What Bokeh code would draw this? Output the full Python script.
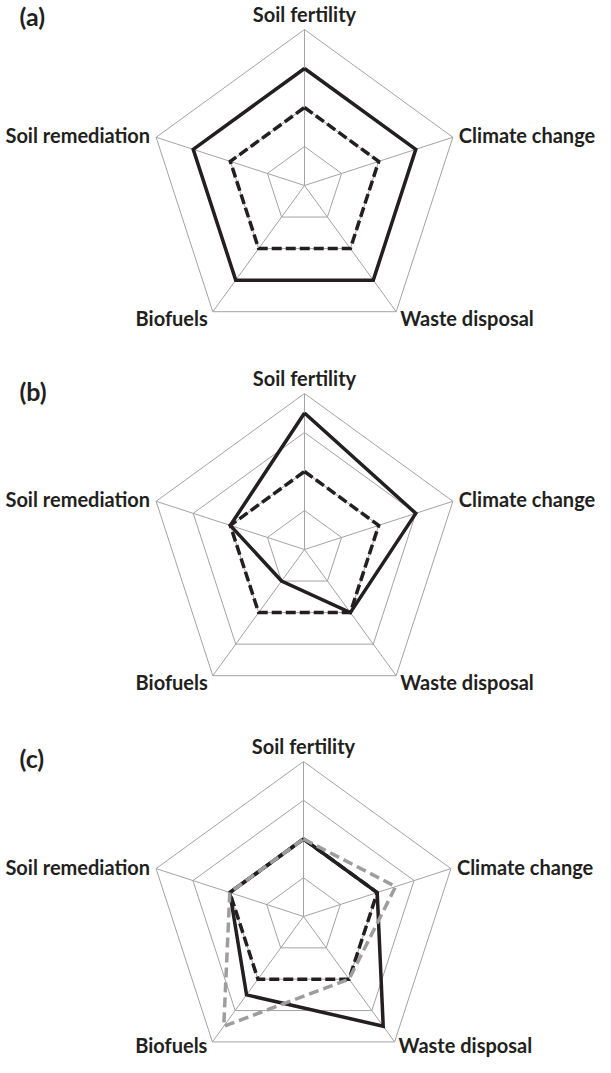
import numpy as np
from bokeh.plotting import figure
from bokeh.models import Range1d
from bokeh.core.properties import value
from bokeh.embed import file_html
from bokeh.resources import INLINE

# ---------------- data ----------------
axes_labels = ["Soil fertility", "Climate change", "Waste disposal", "Biofuels", "Soil remediation"]
panel_letters = ["(a)", "(b)", "(c)"]
grid_levels = [1, 2, 3, 4]
max_level = 4

a_solid = [3, 3, 3, 3, 3]
a_dashed = [2, 2, 2, 2, 2]
b_solid = [3.5, 3, 2, 1, 2]
b_dashed = [2, 2, 2, 2, 2]
c_solid = [2, 2, 3.5, 2.5, 2]
c_dashed = [2, 2, 2, 2, 2]
c_grey = [2, 2.5, 2, 3.5, 2]

# ---------------- layout (data units == page pixels) ----------------
PAD = 8
W, H = 611 - 2 * PAD, 1073 - 2 * PAD
panels = [
    dict(cx=312, cy=193, R=156, letter_y=23, bottom_off=6,
         series=[(a_solid, "black"), (a_dashed, "bdash")]),
    dict(cx=312, cy=557, R=156, letter_y=398, bottom_off=6,
         series=[(b_solid, "black"), (b_dashed, "bdash")]),
    dict(cx=311, cy=924, R=155, letter_y=765, bottom_off=3,
         series=[(c_solid, "black"), (c_dashed, "bdash"), (c_grey, "gdash")]),
]

INK = "#231f20"
GRID = "#a3a3a3"
GREY = "#9d9d9d"
FONT = value("Lato")

p = figure(width=W, height=H, output_backend="svg", toolbar_location=None,
           x_range=Range1d(PAD, PAD + W), y_range=Range1d(PAD + H, PAD),
           x_axis_type=None, y_axis_type=None, min_border=0,
           outline_line_color=None)
p.grid.visible = False

n = len(axes_labels)
theta = np.deg2rad(90 - 72 * np.arange(n))


def to_xy(vals, cx, cy, R):
    r = np.asarray(vals, dtype=float) / max_level * R
    xs = cx + r * np.cos(theta)
    ys = cy - r * np.sin(theta)
    return list(xs) + [xs[0]], list(ys) + [ys[0]]


styles = {
    "black": dict(line_color=INK, line_width=3.5, line_dash="solid"),
    "bdash": dict(line_color=INK, line_width=3.5, line_dash="10 4"),
    "gdash": dict(line_color=GREY, line_width=3.5, line_dash="10 5"),
}

for k, pn in enumerate(panels):
    cx, cy, R = pn["cx"], pn["cy"], pn["R"]
    for lv in grid_levels:
        xs, ys = to_xy([lv] * n, cx, cy, R)
        p.line(xs, ys, line_color=GRID, line_width=1)
    ox, oy = to_xy([max_level] * n, cx, cy, R)
    p.multi_line([[cx, ox[i]] for i in range(n)], [[cy, oy[i]] for i in range(n)],
                 line_color=GRID, line_width=1)
    for vals, st in pn["series"]:
        xs, ys = to_xy(vals, cx, cy, R)
        p.line(xs, ys, line_join="miter", **styles[st])
    vx, vy = ox[:n], oy[:n]
    bo = pn["bottom_off"]
    specs = [
        (vx[0], vy[0] - 16, "center", "middle"),
        (vx[1] + 6, vy[1] - 2, "left", "middle"),
        (vx[2] + 4, vy[2] + bo, "left", "middle"),
        (vx[3] - 5, vy[3] + bo, "right", "middle"),
        (vx[4] - 6, vy[4] - 2, "right", "middle"),
    ]
    for lab, (tx, ty, al, bl) in zip(axes_labels, specs):
        p.text([tx], [ty], text=[lab], text_font=FONT, text_font_style="bold",
               text_font_size="20px", text_color=INK, text_align=al, text_baseline=bl)
    p.text([27], [pn["letter_y"]], text=[panel_letters[k]], text_font=FONT,
           text_font_style="bold", text_font_size="25px", text_color=INK,
           text_align="left", text_baseline="middle")

open("out.html", "w").write(file_html(p, INLINE))
